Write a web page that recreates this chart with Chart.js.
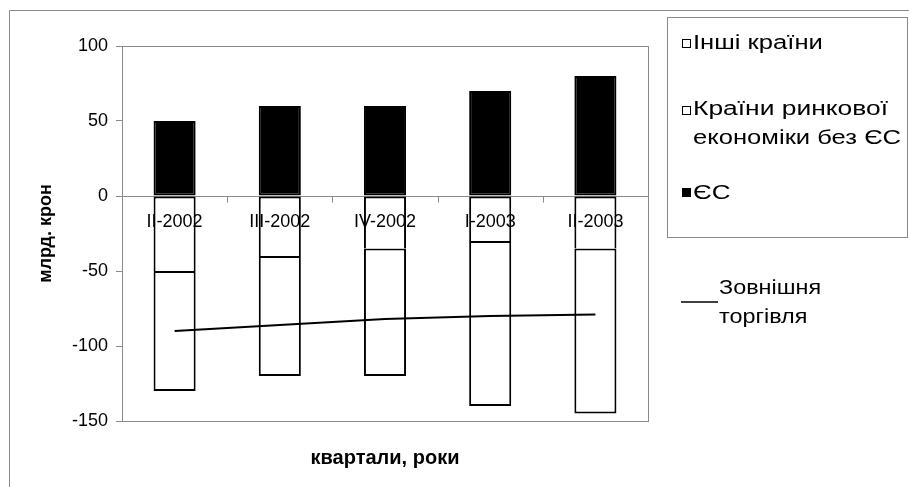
<!DOCTYPE html>
<html>
<head>
<meta charset="utf-8">
<script src="https://cdn.jsdelivr.net/npm/chart.js@4/dist/chart.umd.min.js"></script>
<style>
  html, body { margin: 0; padding: 0; background: #fff; }
  #wrap { width: 909px; height: 487px; position: relative; }
</style>
</head>
<body>
<div id="wrap"><canvas id="c" width="909" height="487"></canvas></div>
<script>
// Quarters
const quarters = ['II-2002', 'III-2002', 'IV-2002', 'I-2003', 'II-2003'];
// Trade balance by partner group, bn SEK
const euValues = [50, 60, 60, 70, 80];
const marketEconValues = [-50, -40, -35, -30, -35];
const otherValues = [-80, -80, -85, -110, -110];
// Total foreign trade
const totalTrade = [-90, -86, -82, -80, -79];
// Value axis ticks
const yMin = -150, yMax = 100, yStep = 50;

const FONT = "'Liberation Sans', Arial, sans-serif";
const GRAY = '#8a8a8a';

// draws text widened horizontally by factor sx
function wideText(ctx, text, x, y, sx) {
  ctx.save();
  ctx.translate(x, y);
  ctx.scale(sx, 1);
  ctx.fillText(text, 0, 0);
  ctx.restore();
}

// Frame, plot border, zero line, in-plot category labels and the legend
const decor = {
  id: 'decor',
  beforeDatasetsDraw(chart) {
    const { ctx, chartArea: a, scales: { x, y } } = chart;
    ctx.save();
    ctx.strokeStyle = GRAY;
    ctx.lineWidth = 1;
    // outer frame (left and top edges)
    ctx.beginPath();
    ctx.moveTo(9.5, 487); ctx.lineTo(9.5, 10.5); ctx.lineTo(909, 10.5);
    ctx.stroke();
    // plot area border
    ctx.strokeRect(Math.round(a.left) + 0.5, Math.round(a.top) + 0.5,
                   Math.round(a.right - a.left), Math.round(a.bottom - a.top));
    // zero line with category ticks
    const zy = Math.round(y.getPixelForValue(0)) + 0.5;
    ctx.beginPath();
    ctx.moveTo(a.left, zy); ctx.lineTo(a.right, zy);
    for (let i = 0; i < quarters.length - 1; i++) {
      const bx = Math.round((x.getPixelForValue(i) + x.getPixelForValue(i + 1)) / 2) + 0.5;
      ctx.moveTo(bx, zy); ctx.lineTo(bx, zy + 6);
    }
    ctx.stroke();
    ctx.restore();
  },
  afterDatasetsDraw(chart) {
    const { ctx, scales: { x, y } } = chart;
    ctx.save();
    ctx.fillStyle = '#000';
    ctx.font = '18px ' + FONT;
    ctx.textAlign = 'center';
    ctx.textBaseline = 'middle';
    const zy = y.getPixelForValue(0);
    quarters.forEach((q, i) => ctx.fillText(q, x.getPixelForValue(i), zy + 26));

    // legend box
    ctx.strokeStyle = GRAY;
    ctx.lineWidth = 1;
    ctx.strokeRect(667.5, 17.5, 240, 220);
    ctx.textAlign = 'left';
    ctx.strokeStyle = '#000';
    const square = (sx, sy, filled) => {
      if (filled) { ctx.fillRect(sx, sy, 9, 9); }
      else { ctx.strokeRect(sx + 0.5, sy + 0.5, 8, 8); }
    };
    ctx.font = '20px ' + FONT;
    square(682, 39, false);
    wideText(ctx, 'Інші країни', 693, 43, 1.28);
    square(682, 106, false);
    wideText(ctx, 'Країни ринкової', 693, 109, 1.32);
    wideText(ctx, 'економіки без ЄС', 693, 138, 1.28);
    square(682, 188, true);
    wideText(ctx, 'ЄС', 693, 193, 1.3);

    // line series key
    ctx.lineWidth = 1.5;
    ctx.beginPath();
    ctx.moveTo(681, 302); ctx.lineTo(718, 302);
    ctx.stroke();
    wideText(ctx, 'Зовнішня', 719, 288, 1.17);
    wideText(ctx, 'торгівля', 719, 317, 1.17);
    ctx.restore();
  }
};

const barCommon = {
  type: 'bar',
  stack: 'partners',
  borderColor: '#000',
  borderWidth: 2,
  borderSkipped: false,
  barPercentage: 0.4,
  categoryPercentage: 1.0
};

new Chart(document.getElementById('c'), {
  data: {
    labels: quarters,
    datasets: [
      { ...barCommon, label: 'ЄС', data: euValues, backgroundColor: '#000' },
      { ...barCommon, label: 'Країни ринкової економіки без ЄС', data: marketEconValues,
        backgroundColor: '#fff', borderSkipped: 'end' },
      { ...barCommon, label: 'Інші країни', data: otherValues, backgroundColor: '#fff' },
      {
        type: 'line', stack: 'total', label: 'Зовнішня торгівля', data: totalTrade,
        borderColor: '#000', borderWidth: 2, pointRadius: 0, tension: 0, fill: false, order: -1
      }
    ]
  },
  options: {
    responsive: false,
    animation: false,
    devicePixelRatio: 1,
    layout: { padding: { left: 0, top: 46, right: 261, bottom: 0 } },
    plugins: { legend: { display: false }, tooltip: { enabled: false } },
    scales: {
      x: {
        stacked: true,
        grid: { display: false },
        border: { display: false },
        ticks: { display: false },
        title: {
          display: true, text: 'квартали, роки', color: '#000',
          font: { family: FONT, size: 20, weight: 'bold' },
          padding: { top: 0, bottom: 17 }
        },
        afterFit(s) { s.height = 66; }
      },
      y: {
        stacked: true,
        min: yMin, max: yMax,
        ticks: {
          stepSize: yStep, color: '#000', padding: 8,
          font: { family: FONT, size: 18 }
        },
        grid: { drawOnChartArea: false, drawTicks: true, tickLength: 6, color: GRAY },
        border: { display: true, color: GRAY },
        title: {
          display: true, text: 'млрд. крон', color: '#000',
          font: { family: FONT, size: 18, weight: 'bold' },
          padding: { top: 35, bottom: 0 }
        },
        afterFit(s) { s.width = 122; }
      }
    }
  },
  plugins: [decor]
});
</script>
</body>
</html>
